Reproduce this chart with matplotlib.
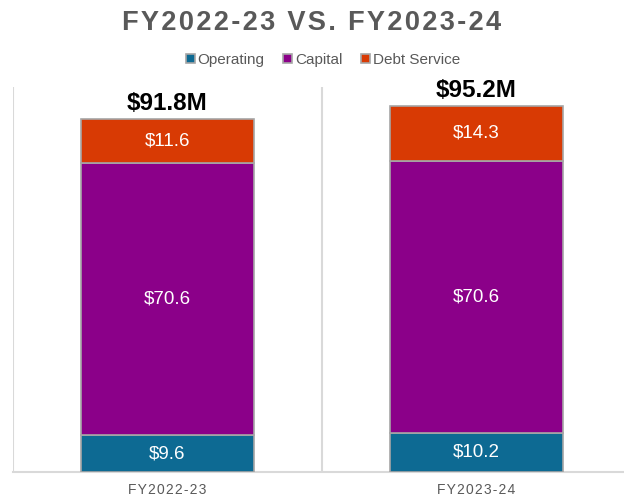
import matplotlib.pyplot as plt
import numpy as np

categories = ['FY2022-23', 'FY2023-24']
operating = [9.6, 10.2]
capital = [70.6, 70.6]
debt = [11.6, 14.3]
totals = ['$91.8M', '$95.2M']
series_names = ['Operating', 'Capital', 'Debt Service']
colors = ['#0d6a93', '#8b0089', '#d83a04']

plt.rcParams['font.family'] = ['Liberation Sans', 'DejaVu Sans']

fig = plt.figure(figsize=(6.24, 4.98), dpi=100)
ax = fig.add_axes([13/624, 1-472/498, 611/624, 385/498])

x = np.arange(len(categories))
w = 0.563
bottom = np.zeros(len(categories))
for vals, col, name in zip([operating, capital, debt], colors, series_names):
    ax.bar(x, vals, w, bottom=bottom, color=col, edgecolor='#a6a6a6',
           linewidth=1.2, label=name, zorder=3)
    for xi, b, v in zip(x, bottom, vals):
        ax.text(xi, b + v/2, '$%.1f' % v, ha='center', va='center',
                color='white', fontsize=13.5, zorder=4)
    bottom = bottom + np.array(vals)

for xi, top, t in zip(x, bottom, totals):
    ax.text(xi, top + 0.9, t, ha='center', va='bottom', fontsize=17.5,
            fontweight='bold', color='black')

ax.set_ylim(0, 100)
ax.set_xlim(-0.5, 611/309 - 0.5)
for gx in [-0.5, 0.5, 1.5]:
    ax.axvline(gx, color='#d9d9d9', lw=1.5, zorder=1)
ax.set_yticks([])
ax.set_xticks(x)
ax.set_xticklabels(['\u200a'.join(c) for c in categories], fontsize=10, color='#595959')
ax.tick_params(axis='x', length=0, pad=8)
for s in ['top', 'right', 'left']:
    ax.spines[s].set_visible(False)
ax.spines['bottom'].set_color('#d9d9d9')
ax.spines['bottom'].set_linewidth(1.5)

title = 'FY2022-23 VS. FY2023-24'
fig.text(0.5, 1-23/498, '\u200a'.join(title),
         ha='center', va='center', fontsize=19.6, fontweight='bold', color='#595959')

leg = fig.legend(loc='center', bbox_to_anchor=(323/624, 1-60/498), ncol=3,
                 frameon=False, fontsize=11, handlelength=0.6, handleheight=0.6,
                 handletextpad=0.2, columnspacing=1.2)
for t in leg.get_texts():
    t.set_color('#595959')

fig.savefig('out.png', dpi=100)
